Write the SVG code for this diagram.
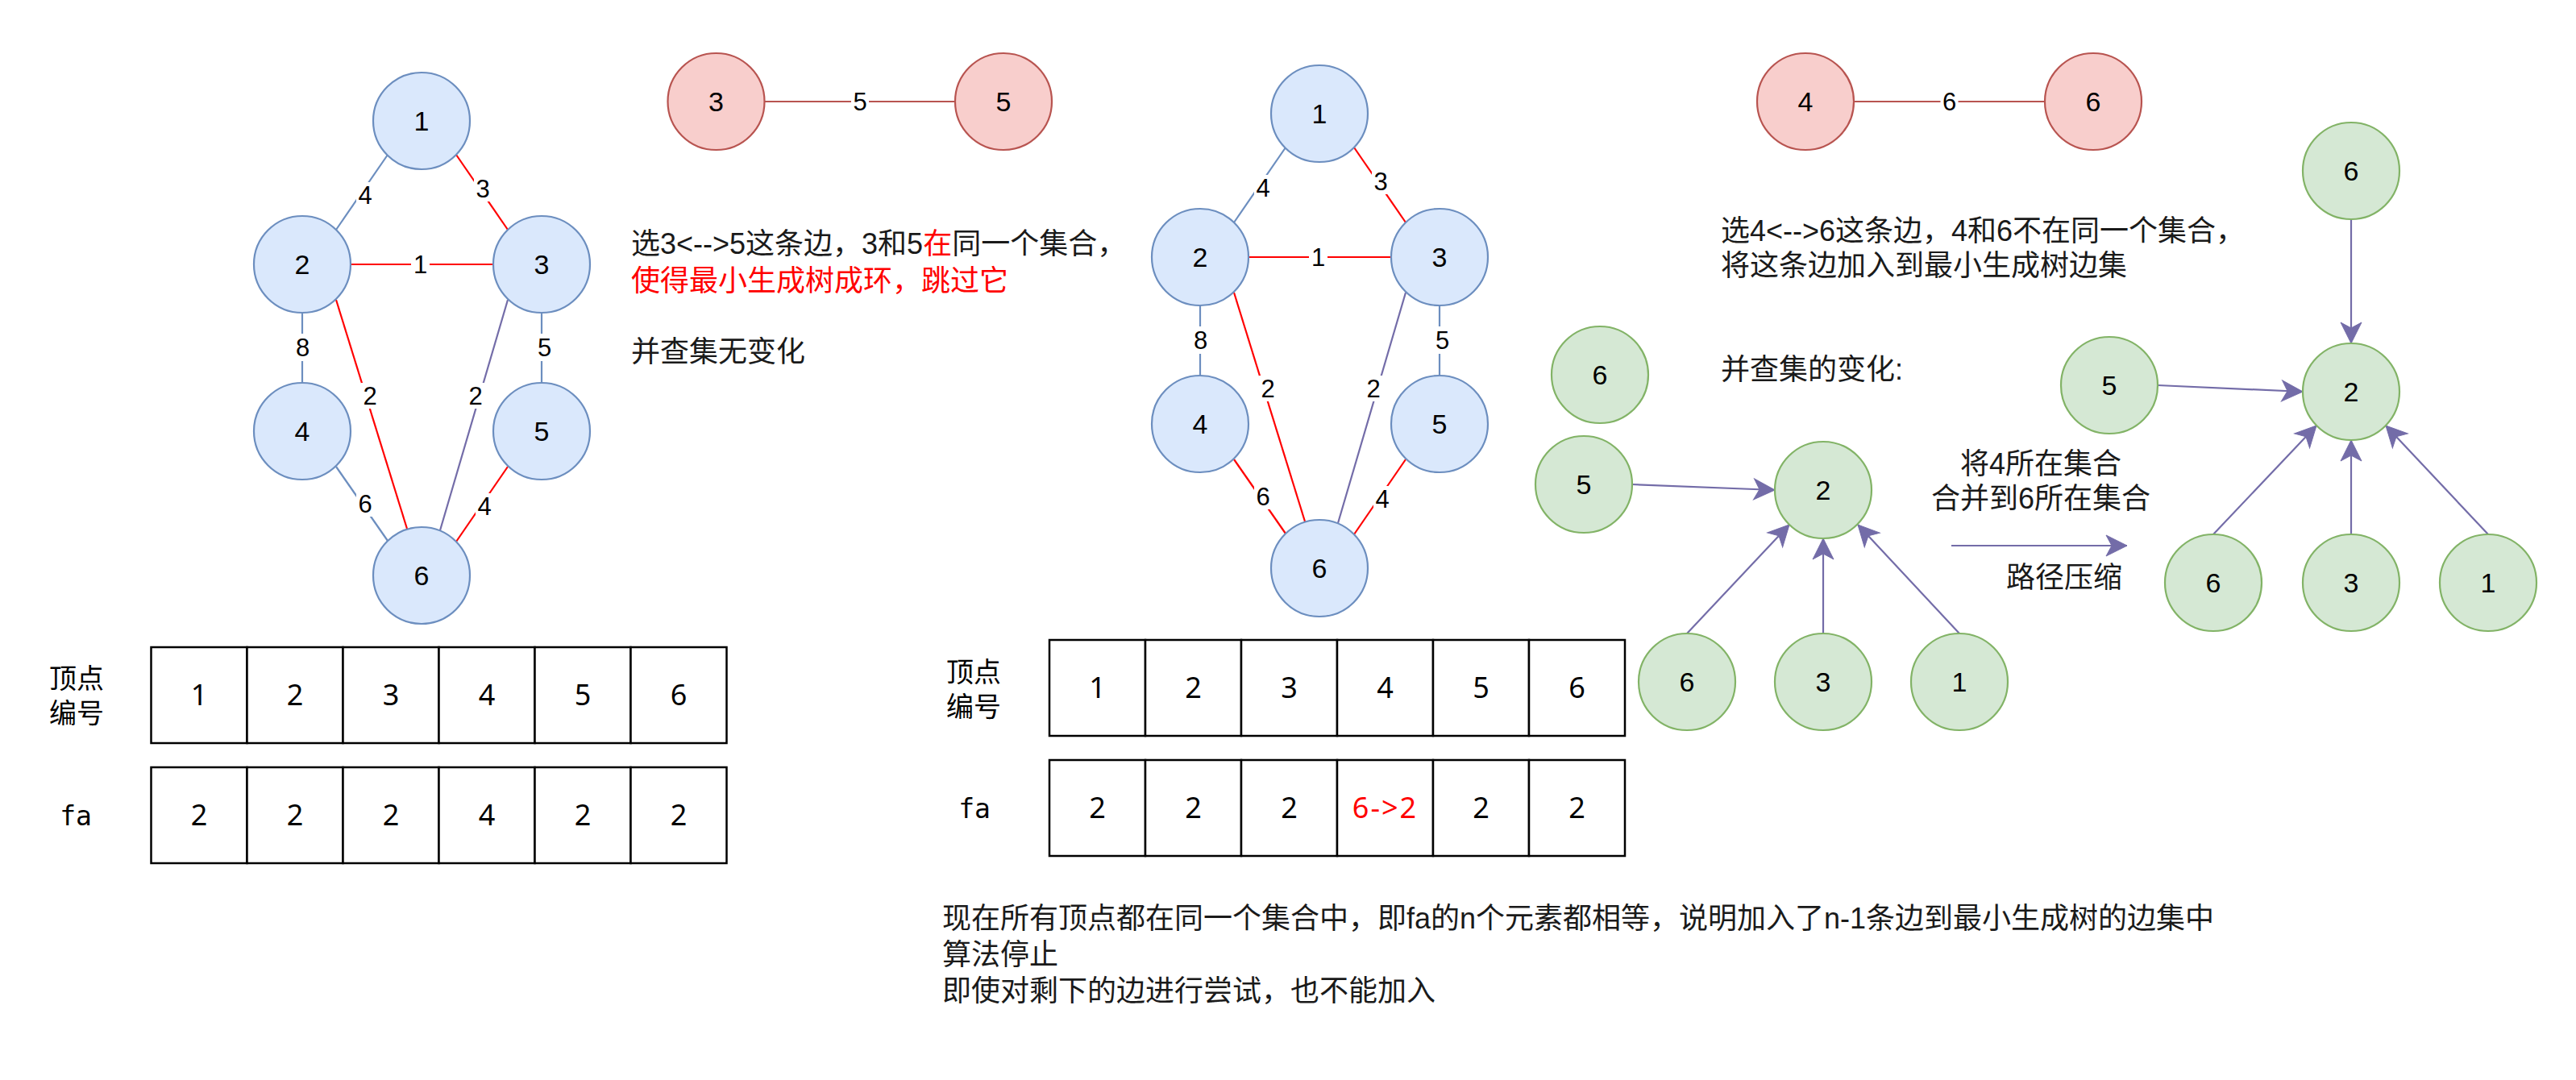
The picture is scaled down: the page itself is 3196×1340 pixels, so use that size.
<svg xmlns="http://www.w3.org/2000/svg" width="3196" height="1340" viewBox="0 0 3196 1340">
<defs>
<marker id="ah" markerUnits="userSpaceOnUse" markerWidth="28" markerHeight="28" refX="26" refY="13" orient="auto" overflow="visible">
<path d="M26,13 L0,0 L7,13 L0,26 Z" fill="#736ca8" stroke="#736ca8" stroke-width="1"/>
</marker>
<style>
.nb{fill:#dae8fc;stroke:#6c8ebf;stroke-width:2.2}
.nr{fill:#f8cecc;stroke:#b85450;stroke-width:2.2}
.ng{fill:#d5e8d4;stroke:#82b366;stroke-width:2.2}
.nl{font-family:"Liberation Sans",Arial,sans-serif;font-size:34px;text-anchor:middle;fill:#000}
.el{font-family:"Liberation Sans",Arial,sans-serif;font-size:31px;text-anchor:middle;fill:#000}
.lb{fill:#fff;stroke:none}
.eb{stroke:#6c8ebf;stroke-width:2.2;fill:none}
.er{stroke:#ff0000;stroke-width:2.2;fill:none}
.ep{stroke:#736ca8;stroke-width:2.2;fill:none}
.ebr{stroke:#b85450;stroke-width:2.2;fill:none}
.ar{stroke:#736ca8;stroke-width:2.2;fill:none;marker-end:url(#ah)}
.txt{font-family:"Liberation Sans","Noto Sans CJK SC",sans-serif;font-size:36px;fill:#1a1a1a}
.cell{fill:#fff;stroke:#000;stroke-width:2.5}
.tn{font-family:"Noto Sans","Noto Sans CJK SC",sans-serif;font-size:36px;text-anchor:middle;fill:#000}
.tl{font-family:"Noto Sans CJK SC",sans-serif;font-size:34px;fill:#000}
.fa{font-family:"DejaVu Sans Mono","Liberation Mono",monospace;font-size:33px;text-anchor:middle;fill:#000}
.red{fill:#ff0000}
</style>
</defs>
<rect x="0" y="0" width="3196" height="1340" fill="#ffffff"/>

<!-- Graph 1 connectors -->
<g id="graph1-edges">
<line class="eb" x1="481" y1="192" x2="417" y2="285"/>
<line class="er" x1="566" y1="192" x2="630" y2="285"/>
<line class="er" x1="435" y1="328" x2="612" y2="328"/>
<line class="eb" x1="375" y1="388" x2="375" y2="475"/>
<line class="eb" x1="672" y1="388" x2="672" y2="475"/>
<line class="er" x1="417" y1="372" x2="505" y2="656"/>
<line class="ep" x1="630" y1="372" x2="546" y2="658"/>
<line class="eb" x1="417" y1="579" x2="481" y2="671"/>
<line class="er" x1="630" y1="579" x2="566" y2="672"/>
<rect class="lb" x="442" y="226" width="22" height="32"/><text class="el" x="453" y="253">4</text>
<rect class="lb" x="588" y="218" width="22" height="32"/><text class="el" x="599" y="245">3</text>
<rect class="lb" x="510" y="312" width="23" height="32"/><text class="el" x="521.5" y="339">1</text>
<rect class="lb" x="364" y="414" width="23" height="34"/><text class="el" x="375.5" y="441.5">8</text>
<rect class="lb" x="664" y="414" width="23" height="34"/><text class="el" x="675.5" y="441.5">5</text>
<rect class="lb" x="448" y="475" width="22" height="32"/><text class="el" x="459" y="502">2</text>
<rect class="lb" x="579" y="475" width="22" height="32"/><text class="el" x="590" y="502">2</text>
<rect class="lb" x="442" y="609" width="22" height="32"/><text class="el" x="453" y="636">6</text>
<rect class="lb" x="590" y="612" width="22" height="32"/><text class="el" x="601" y="639">4</text>
</g>
<g id="g1-n1"><circle class="nb" cx="523" cy="150" r="60"/><text class="nl" x="523" y="162">1</text></g>
<g id="g1-n2"><circle class="nb" cx="375" cy="328" r="60"/><text class="nl" x="375" y="340">2</text></g>
<g id="g1-n3"><circle class="nb" cx="672" cy="328" r="60"/><text class="nl" x="672" y="340">3</text></g>
<g id="g1-n4"><circle class="nb" cx="375" cy="535" r="60"/><text class="nl" x="375" y="547">4</text></g>
<g id="g1-n5"><circle class="nb" cx="672" cy="535" r="60"/><text class="nl" x="672" y="547">5</text></g>
<g id="g1-n6"><circle class="nb" cx="523" cy="714" r="60"/><text class="nl" x="523" y="726">6</text></g>

<!-- Graph 2 -->
<g transform="translate(1114,-9)">
<g id="graph2-edges">
<line class="eb" x1="481" y1="192" x2="417" y2="285"/>
<line class="er" x1="566" y1="192" x2="630" y2="285"/>
<line class="er" x1="435" y1="328" x2="612" y2="328"/>
<line class="eb" x1="375" y1="388" x2="375" y2="475"/>
<line class="eb" x1="672" y1="388" x2="672" y2="475"/>
<line class="er" x1="417" y1="372" x2="505" y2="656"/>
<line class="ep" x1="630" y1="372" x2="546" y2="658"/>
<line class="er" x1="417" y1="579" x2="481" y2="671"/>
<line class="er" x1="630" y1="579" x2="566" y2="672"/>
<rect class="lb" x="442" y="226" width="22" height="32"/><text class="el" x="453" y="253">4</text>
<rect class="lb" x="588" y="218" width="22" height="32"/><text class="el" x="599" y="245">3</text>
<rect class="lb" x="510" y="312" width="23" height="32"/><text class="el" x="521.5" y="339">1</text>
<rect class="lb" x="364" y="414" width="23" height="34"/><text class="el" x="375.5" y="441.5">8</text>
<rect class="lb" x="664" y="414" width="23" height="34"/><text class="el" x="675.5" y="441.5">5</text>
<rect class="lb" x="448" y="475" width="22" height="32"/><text class="el" x="459" y="502">2</text>
<rect class="lb" x="579" y="475" width="22" height="32"/><text class="el" x="590" y="502">2</text>
<rect class="lb" x="442" y="609" width="22" height="32"/><text class="el" x="453" y="636">6</text>
<rect class="lb" x="590" y="612" width="22" height="32"/><text class="el" x="601" y="639">4</text>
</g>
<g id="g2-n1"><circle class="nb" cx="523" cy="150" r="60"/><text class="nl" x="523" y="162">1</text></g>
<g id="g2-n2"><circle class="nb" cx="375" cy="328" r="60"/><text class="nl" x="375" y="340">2</text></g>
<g id="g2-n3"><circle class="nb" cx="672" cy="328" r="60"/><text class="nl" x="672" y="340">3</text></g>
<g id="g2-n4"><circle class="nb" cx="375" cy="535" r="60"/><text class="nl" x="375" y="547">4</text></g>
<g id="g2-n5"><circle class="nb" cx="672" cy="535" r="60"/><text class="nl" x="672" y="547">5</text></g>
<g id="g2-n6"><circle class="nb" cx="523" cy="714" r="60"/><text class="nl" x="523" y="726">6</text></g>
</g>

<!-- Red edge pairs -->
<g id="pair-edges">
<line class="ebr" x1="948.5" y1="126" x2="1185" y2="126"/>
<rect class="lb" x="1056" y="110" width="22" height="32"/><text class="el" x="1067" y="137">5</text>
<line class="ebr" x1="2300" y1="126" x2="2537" y2="126"/>
<rect class="lb" x="2407.5" y="110" width="22" height="32"/><text class="el" x="2418.5" y="137">6</text>
</g>
<g id="p1-n3"><circle class="nr" cx="888.5" cy="126" r="60"/><text class="nl" x="888.5" y="138">3</text></g>
<g id="p1-n5"><circle class="nr" cx="1245" cy="126" r="60"/><text class="nl" x="1245" y="138">5</text></g>
<g id="p2-n4"><circle class="nr" cx="2240" cy="126" r="60"/><text class="nl" x="2240" y="138">4</text></g>
<g id="p2-n6"><circle class="nr" cx="2597" cy="126" r="60"/><text class="nl" x="2597" y="138">6</text></g>

<!-- Union-find arrows -->
<g id="uf-connectors">
<line class="ar" x1="2025" y1="601" x2="2202" y2="608"/>
<line class="ar" x1="2093" y1="786" x2="2220" y2="651"/>
<line class="ar" x1="2262" y1="786" x2="2262" y2="668"/>
<line class="ar" x1="2431" y1="786" x2="2305" y2="651"/>
<line class="ar" x1="2421" y1="677" x2="2639" y2="677"/>
<line class="ar" x1="2917" y1="272" x2="2917" y2="426"/>
<line class="ar" x1="2677" y1="478" x2="2857" y2="486"/>
<line class="ar" x1="2746" y1="663" x2="2874" y2="528"/>
<line class="ar" x1="2917" y1="663" x2="2917" y2="546"/>
<line class="ar" x1="3087" y1="663" x2="2960" y2="528"/>
</g>
<g id="uf1-n6"><circle class="ng" cx="1985" cy="465" r="60"/><text class="nl" x="1985" y="477">6</text></g>
<g id="uf1-n5"><circle class="ng" cx="1965" cy="601" r="60"/><text class="nl" x="1965" y="613">5</text></g>
<g id="uf1-n2"><circle class="ng" cx="2262" cy="608" r="60"/><text class="nl" x="2262" y="620">2</text></g>
<g id="uf1-n6b"><circle class="ng" cx="2093" cy="846" r="60"/><text class="nl" x="2093" y="858">6</text></g>
<g id="uf1-n3"><circle class="ng" cx="2262" cy="846" r="60"/><text class="nl" x="2262" y="858">3</text></g>
<g id="uf1-n1"><circle class="ng" cx="2431" cy="846" r="60"/><text class="nl" x="2431" y="858">1</text></g>
<g id="uf2-n6"><circle class="ng" cx="2917" cy="212" r="60"/><text class="nl" x="2917" y="224">6</text></g>
<g id="uf2-n2"><circle class="ng" cx="2917" cy="486" r="60"/><text class="nl" x="2917" y="498">2</text></g>
<g id="uf2-n5"><circle class="ng" cx="2617" cy="478" r="60"/><text class="nl" x="2617" y="490">5</text></g>
<g id="uf2-n6b"><circle class="ng" cx="2746" cy="723" r="60"/><text class="nl" x="2746" y="735">6</text></g>
<g id="uf2-n3"><circle class="ng" cx="2917" cy="723" r="60"/><text class="nl" x="2917" y="735">3</text></g>
<g id="uf2-n1"><circle class="ng" cx="3087" cy="723" r="60"/><text class="nl" x="3087" y="735">1</text></g>

<!-- Annotations -->
<g id="notes">
<text class="txt" x="783" y="315">选3&lt;--&gt;5这条边，3和5<tspan fill="#ff0000">在</tspan>同一个集合，</text>
<text class="txt" x="783" y="361" fill="#ff0000" style="fill:#ff0000">使得最小生成树成环，跳过它</text>
<text class="txt" x="783" y="449">并查集无变化</text>
<text class="txt" x="2135" y="299">选4&lt;--&gt;6这条边，4和6不在同一个集合，</text>
<text class="txt" x="2135" y="342">将这条边加入到最小生成树边集</text>
<text class="txt" x="2135" y="471">并查集的变化:</text>
<text class="txt" x="2532" y="588" text-anchor="middle">将4所在集合</text>
<text class="txt" x="2532" y="631" text-anchor="middle">合并到6所在集合</text>
<text class="txt" x="2489" y="729">路径压缩</text>
<text class="txt" x="1169" y="1152">现在所有顶点都在同一个集合中，即fa的n个元素都相等，说明加入了n-1条边到最小生成树的边集中</text>
<text class="txt" x="1169" y="1197">算法停止</text>
<text class="txt" x="1169" y="1242">即使对剩下的边进行尝试，也不能加入</text>
</g>

<!-- Table 1 -->
<g id="table1">
<text class="tl" x="61" y="854">顶点</text>
<text class="tl" x="61" y="897">编号</text>
<text class="fa" x="94" y="1024">fa</text>
<rect class="cell" x="187.5" y="803" width="119" height="119"/>
<rect class="cell" x="306.5" y="803" width="119" height="119"/>
<rect class="cell" x="425.5" y="803" width="119" height="119"/>
<rect class="cell" x="544.5" y="803" width="119" height="119"/>
<rect class="cell" x="663.5" y="803" width="119" height="119"/>
<rect class="cell" x="782.5" y="803" width="119" height="119"/>
<text class="tn" x="247" y="875">1</text>
<text class="tn" x="366" y="875">2</text>
<text class="tn" x="485" y="875">3</text>
<text class="tn" x="604" y="875">4</text>
<text class="tn" x="723" y="875">5</text>
<text class="tn" x="842" y="875">6</text>
<rect class="cell" x="187.5" y="952" width="119" height="119"/>
<rect class="cell" x="306.5" y="952" width="119" height="119"/>
<rect class="cell" x="425.5" y="952" width="119" height="119"/>
<rect class="cell" x="544.5" y="952" width="119" height="119"/>
<rect class="cell" x="663.5" y="952" width="119" height="119"/>
<rect class="cell" x="782.5" y="952" width="119" height="119"/>
<text class="tn" x="247" y="1024">2</text>
<text class="tn" x="366" y="1024">2</text>
<text class="tn" x="485" y="1024">2</text>
<text class="tn" x="604" y="1024">4</text>
<text class="tn" x="723" y="1024">2</text>
<text class="tn" x="842" y="1024">2</text>
</g>

<!-- Table 2 -->
<g id="table2">
<text class="tl" x="1174" y="846">顶点</text>
<text class="tl" x="1174" y="889">编号</text>
<text class="fa" x="1209" y="1015">fa</text>
<rect class="cell" x="1302" y="794" width="119" height="119"/>
<rect class="cell" x="1421" y="794" width="119" height="119"/>
<rect class="cell" x="1540" y="794" width="119" height="119"/>
<rect class="cell" x="1659" y="794" width="119" height="119"/>
<rect class="cell" x="1778" y="794" width="119" height="119"/>
<rect class="cell" x="1897" y="794" width="119" height="119"/>
<text class="tn" x="1361.5" y="866">1</text>
<text class="tn" x="1480.5" y="866">2</text>
<text class="tn" x="1599.5" y="866">3</text>
<text class="tn" x="1718.5" y="866">4</text>
<text class="tn" x="1837.5" y="866">5</text>
<text class="tn" x="1956.5" y="866">6</text>
<rect class="cell" x="1302" y="943" width="119" height="119"/>
<rect class="cell" x="1421" y="943" width="119" height="119"/>
<rect class="cell" x="1540" y="943" width="119" height="119"/>
<rect class="cell" x="1659" y="943" width="119" height="119"/>
<rect class="cell" x="1778" y="943" width="119" height="119"/>
<rect class="cell" x="1897" y="943" width="119" height="119"/>
<text class="tn" x="1361.5" y="1015">2</text>
<text class="tn" x="1480.5" y="1015">2</text>
<text class="tn" x="1599.5" y="1015">2</text>
<text class="tn" x="1718.5" y="1015" letter-spacing="2" style="fill:#ff0000">6-&gt;2</text>
<text class="tn" x="1837.5" y="1015">2</text>
<text class="tn" x="1956.5" y="1015">2</text>
</g>
</svg>
